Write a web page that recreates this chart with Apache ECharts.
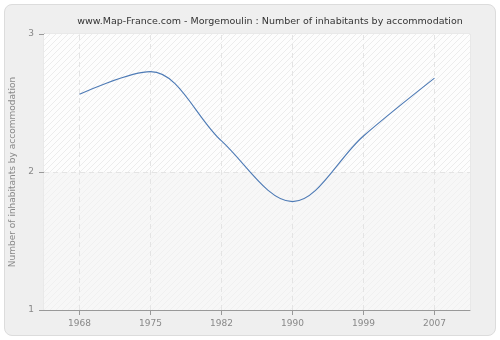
<!DOCTYPE html>
<html>
<head>
<meta charset="utf-8">
<script src="https://cdn.jsdelivr.net/npm/echarts@6/dist/echarts.min.js"></script>
<style>
  html, body { margin: 0; padding: 0; background: #ffffff; }
  #frame { position: absolute; left: 4px; top: 4px; width: 490px; height: 330px;
           background: #efefef; border: 1px solid #dcdcdc; border-radius: 8px; }
  #chart { position: absolute; left: 0; top: 0; width: 500px; height: 340px; }
</style>
</head>
<body>
<div id="frame"></div>
<div id="chart"></div>
<script>
// Census years and average number of inhabitants per dwelling
var years = ['1968', '1975', '1982', '1990', '1999', '2007'];
var inhabitants = [2.563, 2.727, 2.225, 1.785, 2.261, 2.68];
var yTicks = [1, 2, 3];

// Diagonal hatch tile used as the plot background
function hatch(base, line) {
  var c = document.createElement('canvas');
  c.width = 6; c.height = 6;
  var g = c.getContext('2d');
  g.fillStyle = base;
  g.fillRect(0, 0, 6, 6);
  g.strokeStyle = line;
  g.lineWidth = 1;
  g.beginPath();
  g.moveTo(-1, 7); g.lineTo(7, -1);
  g.moveTo(-1, 1); g.lineTo(1, -1);
  g.moveTo(5, 7); g.lineTo(7, 5);
  g.stroke();
  return { image: c, repeat: 'repeat' };
}

var chart = echarts.init(document.getElementById('chart'), null, { renderer: 'canvas' });
chart.setOption({
  animation: false,
  backgroundColor: 'transparent',
  title: {
    text: 'www.Map-France.com - Morgemoulin : Number of inhabitants by accommodation',
    left: 265, top: 12, textAlign: 'center',
    textStyle: { fontFamily: 'DejaVu Sans', fontSize: 9.5, fontWeight: 'normal', color: '#333' }
  },
  grid: {
    left: 40, right: 30, top: 34, bottom: 30,
    show: true, backgroundColor: '#fbfbfb', borderColor: '#e2e2e2', borderWidth: 1
  },
  xAxis: {
    type: 'category', data: years, boundaryGap: true,
    axisLine: { show: true, onZero: false, lineStyle: { color: '#999' } },
    axisTick: { show: true, alignWithLabel: true, length: 5, lineStyle: { color: '#999' } },
    axisLabel: { color: '#888', fontFamily: 'DejaVu Sans', fontSize: 9, margin: 9 },
    splitLine: { show: false }
  },
  yAxis: {
    type: 'value', min: yTicks[0], max: yTicks[yTicks.length - 1], interval: 1,
    name: 'Number of inhabitants by accommodation',
    nameLocation: 'middle', nameGap: 27, nameRotate: 90,
    nameTextStyle: { color: '#888', fontFamily: 'DejaVu Sans', fontSize: 9 },
    axisLine: { show: true, lineStyle: { color: '#999' } },
    axisTick: { show: true, length: 5, lineStyle: { color: '#999' } },
    axisLabel: { color: '#888', fontFamily: 'DejaVu Sans', fontSize: 9, margin: 10 },
    splitLine: { show: false }
  },
  series: [
    {
      type: 'line',
      data: inhabitants,
      smooth: 0.35,
      showSymbol: false,
      lineStyle: { color: '#4d7ab5', width: 1.1 },
      z: 5,
      markArea: {
        silent: true,
        data: [
          [{ yAxis: 2, itemStyle: { color: hatch('#fdfdfd', '#ececec') } }, { yAxis: 3 }],
          [{ yAxis: 1, itemStyle: { color: hatch('#f7f7f7', '#f0f0f0') } }, { yAxis: 2 }]
        ]
      },
      markLine: {
        silent: true, symbol: 'none', label: { show: false },
        lineStyle: { color: '#e4e4e4', type: [5, 4], width: 1 },
        data: years.map(function (y) { return { xAxis: y }; }).concat([{ yAxis: 2 }])
      }
    }
  ]
});
</script>
</body>
</html>
